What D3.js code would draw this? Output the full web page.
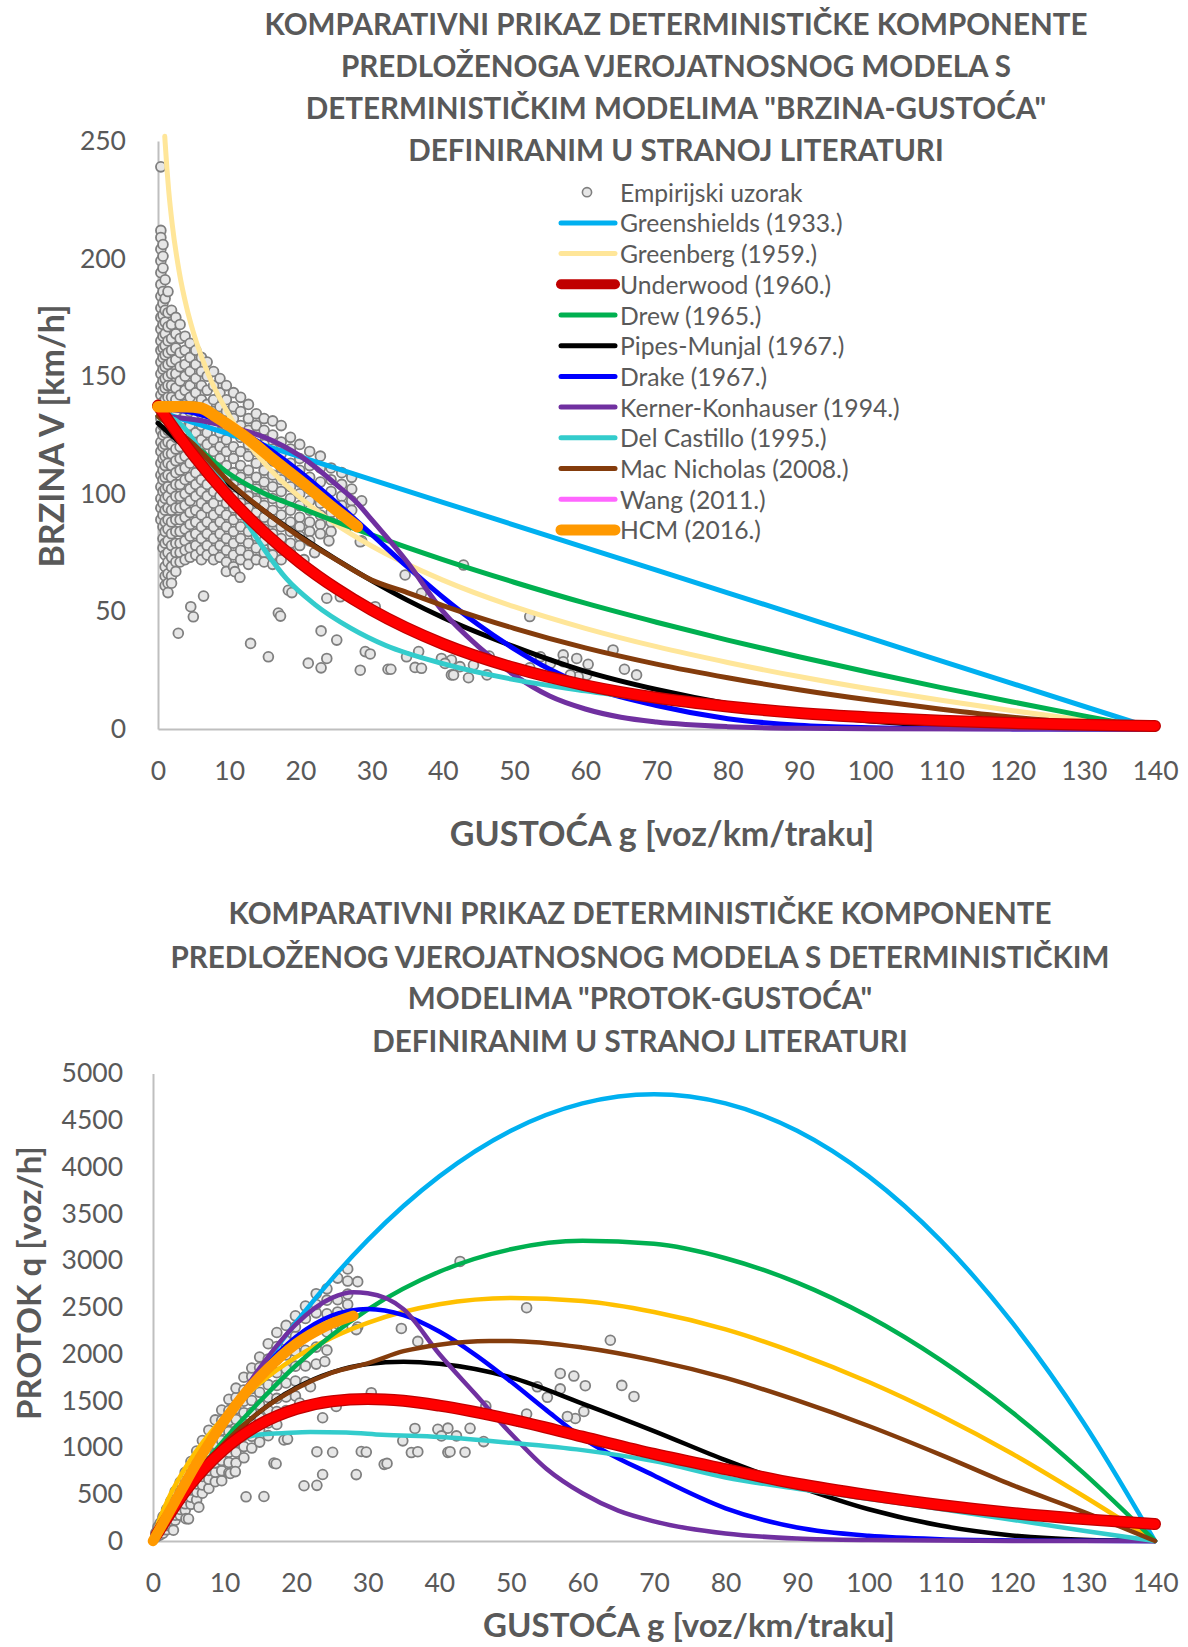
<!DOCTYPE html>
<html><head><meta charset="utf-8">
<script src="https://cdn.jsdelivr.net/npm/d3@7"></script>
<style>html,body{margin:0;padding:0;background:#fff}</style>
</head><body>
<script>
// ---------------- DATA ----------------
const densityTicks = [0,10,20,30,40,50,60,70,80,90,100,110,120,130,140];
const speedTicks = [0,50,100,150,200,250];
const flowTicks = [0,500,1000,1500,2000,2500,3000,3500,4000,4500,5000];

const titleTop = ["KOMPARATIVNI PRIKAZ DETERMINISTIČKE KOMPONENTE","PREDLOŽENOGA VJEROJATNOSNOG MODELA S","DETERMINISTIČKIM MODELIMA \"BRZINA-GUSTOĆA\"","DEFINIRANIM U STRANOJ LITERATURI"];
const titleBottom = ["KOMPARATIVNI PRIKAZ DETERMINISTIČKE KOMPONENTE","PREDLOŽENOG VJEROJATNOSNOG MODELA S DETERMINISTIČKIM","MODELIMA \"PROTOK-GUSTOĆA\"","DEFINIRANIM U STRANOJ LITERATURI"];
const xTitle = "GUSTOĆA g [voz/km/traku]";
const yTitleTop = "BRZINA V [km/h]";
const yTitleBottom = "PROTOK q [voz/h]";

const legendNames = ["Empirijski uzorak","Greenshields (1933.)","Greenberg (1959.)","Underwood (1960.)","Drew (1965.)","Pipes-Munjal (1967.)","Drake (1967.)","Kerner-Konhauser (1994.)","Del Castillo (1995.)","Mac Nicholas (2008.)","Wang (2011.)","HCM (2016.)"];

// empirical sample, speed-density: columns [g, [v...]]
const speedSampleCols = [
[0.4,[239,212,209,204,199,194,189,184,179,175,170,165,161,156,151,146,142,137,132,127,122,118,113,108,103,98,94,89]],
[0.7,[206,201,196,186,181,176,172,167,162,158,153,148,144,139,134,129,125,120,115,110,106,101,96,91,86,81,77]],
[1.0,[191,183,178,173,168,163,159,154,149,145,140,135,131,126,121,116,112,107,102,98,93,88,84,79,74,69,65,61]],
[1.4,[186,177,171,165,160,155,150,146,141,136,132,127,122,117,113,108,103,99,94,89,85,80,75,71,66,62,58]],
[1.9,[178,172,166,161,156,151,146,141,136,131,126,121,117,112,107,102,97,93,88,83,78,73,69,65,62]],
[2.5,[175,168,162,157,151,145,140,135,129,124,119,114,109,104,99,94,89,84,79,75,71,67]],
[3.1,[172,166,160,154,148,142,137,131,126,120,115,110,104,99,94,89,84,79,75,71]],
[3.8,[167,161,155,150,144,138,133,127,122,116,111,106,100,95,90,85,80,76,72]],
[4.5,[164,158,152,146,141,135,129,124,118,113,107,102,97,92,87,82,77,73]],
[5.3,[161,155,149,143,137,132,126,120,115,109,104,99,93,88,83,78,74]],
[6.1,[158,152,146,140,134,129,123,117,112,106,101,96,91,86,81,76,72]],
[6.9,[156,150,144,138,132,126,121,115,110,104,99,94,88,83,78,74]],
[7.8,[152,146,140,135,129,123,118,112,107,101,96,91,86,81,76,72]],
[8.7,[149,143,137,132,126,120,115,109,104,99,93,88,83,78,73]],
[9.6,[146,140,135,129,123,118,112,107,101,96,91,86,81,76,71,67]],
[10.6,[143,137,132,126,120,115,109,104,99,94,89,84,79,74,69]],
[11.6,[141,135,129,124,118,112,107,102,96,91,86,81,76,72]],
[12.7,[138,132,127,121,116,110,105,99,94,89,84,79,74,70]],
[13.8,[134,129,124,118,113,107,102,97,92,87,82,77,72]],
[14.9,[132,127,121,116,110,105,100,95,90,85,80,75,71]],
[16.1,[131,125,119,114,108,103,98,93,88,83,78,74,70]],
[17.3,[129,122,117,111,106,101,96,91,86,81,77,72]],
[18.6,[124,119,113,108,103,98,93,88,84,79,75]],
[19.9,[121,115,110,105,100,95,90,86,82,78]],
[21.3,[118,112,107,102,97,93,88,84,80]],
[22.8,[116,111,105,100,96,91,87,83]],
[24.3,[111,106,101,96,92,88,84]],
[25.8,[109,104,99,95,90]],
[27.2,[107,102,97,93]],
[28.6,[97,80]]
];
const speedOutliers = [[2.85,40.7],[4.6,52],[4.96,47.7],[6.4,56.5],[13,36.4],[15.5,30.7],[16.9,49.3],[17.2,48],[18.3,59],[18.8,58],[21.1,28],[22.9,26],[22.9,41.7],[23.7,30],[25.1,37.8],[23.7,55.6],[25.6,56.2],[28.4,25],[29.1,32.9],[29.8,31.9],[30.5,52],[32.3,25.4],[32.7,25.4],[34.7,65.5],[34.9,30.7],[36.6,32.9],[36.1,26.2],[37,25.8],[37,57.7],[39.8,30],[41.2,29.3],[40.3,27.9],[41.2,23],[42.9,69.7],[52.2,47.8],[46.5,31],[41.5,23],[43.6,21.8],[42.4,26.5],[44.3,27.2],[46.2,23],[51.1,25],[52.2,26],[53.7,30.7],[55.1,27.9],[56.9,31.5],[56.9,28.6],[58.8,30],[60.4,27.5],[60.2,23],[59,22.2],[57.9,23],[63.9,33.6],[65.5,25.4],[67.2,23],[20.5,72],[22,75],[24,80],[26.5,86],[28.4,79.6],[10.8,66.9],[11.5,64.5]];

// empirical sample, flow-density: columns [g, [q...]]
const flowSampleCols = [
[0.4,[42,63,88]],
[0.7,[58,92,124,150]],
[1.0,[66,98,132,166,191]],
[1.4,[84,122,160,198,240,262]],
[1.9,[120,165,212,258,300,338]],
[2.5,[170,220,272,322,375,428]],
[3.1,[222,276,330,385,440,498,530]],
[3.8,[275,338,400,462,525,590,630]],
[4.5,[330,398,466,535,605,675,735]],
[5.3,[392,468,545,622,700,778,850]],
[6.1,[440,525,610,695,780,865,962]],
[6.9,[512,600,690,780,870,960,1075]],
[7.8,[562,660,755,850,948,1045,1185]],
[8.7,[635,735,836,937,1038,1140,1295]],
[9.6,[645,752,860,968,1075,1185,1290,1400]],
[10.6,[730,840,950,1062,1172,1285,1395,1515]],
[11.6,[835,950,1065,1180,1300,1415,1535,1635]],
[12.7,[890,1010,1130,1250,1372,1495,1615,1752]],
[13.8,[994,1120,1248,1375,1502,1630,1760,1850]],
[14.9,[1058,1190,1322,1455,1590,1722,1855,1967]],
[16.1,[1127,1262,1398,1535,1672,1808,1945,2110]],
[17.3,[1246,1385,1525,1664,1800,1942,2080,2230]],
[18.6,[1395,1540,1690,1840,1990,2140,2306]],
[19.9,[1552,1710,1870,2028,2190,2290,2408]],
[21.3,[1704,1872,2040,2210,2380,2513]],
[22.8,[1892,2074,2258,2440,2530,2645]],
[24.3,[2041,2236,2430,2576,2697]],
[25.8,[2322,2450,2580,2812]],
[27.2,[2530,2640,2780,2910]],
[28.6,[2288,2774]]
];
const flowOutliers = [[2.85,116],[4.6,239],[4.96,237],[6.4,362],[13,473],[15.5,476],[16.9,833],[17.2,826],[18.3,1080],[18.8,1090],[21.1,591],[22.9,595],[22.9,955],[23.7,711],[25.1,949],[23.7,1318],[25.6,1439],[28.4,710],[29.1,957],[29.8,951],[30.5,1586],[32.3,820],[32.7,830],[34.7,2273],[34.9,1071],[36.6,1204],[36.1,946],[37,955],[37,2135],[39.8,1194],[41.2,1207],[40.3,1124],[41.2,948],[42.9,2990],[52.2,2495],[46.5,1442],[41.5,955],[43.6,950],[42.4,1124],[44.3,1205],[46.2,1063],[51.1,1278],[52.2,1357],[53.7,1649],[55.1,1537],[56.9,1792],[56.9,1627],[58.8,1764],[60.4,1661],[60.2,1385],[59,1310],[57.9,1332],[63.9,2147],[65.5,1664],[67.2,1546],[20.5,1476],[22,1650],[24,1920],[26.5,2279],[28.4,2261],[10.8,722],[11.5,742]];

// model curves: speed-density [g, v]
const greenshieldsSpeed = [[0,135],[20,115.7],[40,96.4],[60,77.1],[80,57.9],[100,38.6],[120,19.3],[140,0]];
const greenbergSpeed = [[0.95,252],[1,249.5],[1.25,238.3],[1.5,229],[2,214.5],[3,194],[4,179.5],[5,168.3],[7,151.3],[10,133.3],[15,112.8],[20,98.3],[25,87],[30,77.8],[40,63.3],[50,52],[60,42.8],[70,35],[80,28.3],[90,22.3],[100,17],[110,12.2],[120,7.8],[130,3.7],[140,0]];
const underwoodSpeed = [[0,137.5],[5,116.4],[10,98.5],[15,83.4],[20,70.6],[25,59.8],[30,50.6],[40,36.2],[50,26],[60,18.6],[70,13.3],[80,9.6],[90,6.8],[100,4.9],[110,3.5],[120,2.5],[130,1.8],[140,1.3]];
const proposedSpeed = [[0,137.5],[5,116.4],[10,98.5],[15,83.4],[20,70.6],[25,59.8],[30,50.6],[40,36.2],[50,26],[60,18.6],[70,13.3],[80,9.6],[90,6.8],[100,4.9],[110,3.5],[120,2.5],[130,1.8],[140,1.3]];
const drewSpeed = [[0,133],[5,121],[10,108.5],[15,100],[20,94],[30,82.5],[40,72],[50,62.4],[60,53.5],[70,45.4],[80,37.8],[90,30.7],[100,24],[110,17.6],[120,11.5],[130,5.6],[140,0]];
const pipesSpeed = [[0,130],[5,116.6],[10,104.1],[15,92.5],[20,81.9],[25,72.1],[30,63.1],[35,54.8],[40,47.4],[50,35],[60,24.5],[70,16.8],[80,10.8],[90,6.5],[100,3.4],[110,1.5],[120,0.5],[130,0.1],[140,0]];
const drakeSpeed = [[0,136.3],[5,134.4],[10,129],[15,120.3],[20,109.2],[25,96.4],[30,82.7],[35,69],[40,56],[45,44.3],[50,34.1],[55,25.4],[60,18.4],[70,10],[80,4.4],[90,1.6],[100,0.55],[110,0.17],[120,0.05],[130,0.01],[140,0]];
const kernerSpeed = [[0,133],[5,131.6],[10,128.5],[15,124],[20,116],[25,104],[28,96],[30,89],[35,71],[40,50],[45,35],[50,23],[55,14],[60,8.5],[65,5],[70,3],[80,1],[90,0.3],[100,0.1],[120,0],[140,0]];
const castilloSpeed = [[0,133],[2,132],[4,127],[6,118],[9,105],[12,90],[15,76],[18,64],[22,53],[27,43],[32,35.5],[40,27.8],[50,21],[60,16.2],[70,12.2],[80,8.5],[90,6.2],[100,4.5],[110,3.1],[120,1.9],[130,0.85],[140,0]];
const macNicholasSpeed = [[0,133],[5,121],[10,105],[15,92.5],[20,81.5],[25,72],[30,63.3],[35,58],[40,52.5],[45,47.5],[50,42.8],[60,34.5],[70,27.6],[80,21.8],[90,16.7],[100,12.3],[110,8.4],[120,5],[130,2.4],[140,0]];
const hcmSpeed = [[0,137],[2,137],[4,137],[6,136.5],[8,133],[10,129],[13,122.5],[16,115],[20,105.5],[24,95.5],[28,86]];

// model curves: flow-density [g, q]
const greenshieldsFlow = [[1,135],[10,1268],[20,2340],[30,3218],[40,3900],[50,4388],[60,4680],[70,4778],[80,4680],[90,4388],[100,3900],[110,3218],[120,2340],[130,1268],[140,0]];
const greenbergFlow = [[0.5,142],[1,250],[2,429],[5,841],[10,1333],[15,1692],[20,1966],[25,2175],[30,2334],[40,2532],[50,2600],[60,2568],[70,2450],[80,2264],[90,2007],[100,1700],[110,1342],[120,936],[130,481],[140,0]];
const underwoodFlow = [[0.5,68],[5,582],[10,985],[15,1251],[20,1412],[25,1495],[30,1518],[35,1499],[40,1448],[50,1300],[60,1116],[70,931],[80,768],[90,612],[100,490],[110,385],[120,300],[130,234],[140,182]];
const proposedFlow = [[0.5,68],[5,582],[10,985],[15,1251],[20,1412],[25,1495],[30,1518],[35,1499],[40,1448],[50,1300],[60,1116],[70,931],[80,768],[90,612],[100,490],[110,385],[120,300],[130,234],[140,182]];
const drewFlow = [[1,133],[5,605],[10,1085],[15,1500],[20,1880],[30,2475],[40,2880],[50,3120],[60,3210],[70,3178],[80,3024],[90,2763],[100,2400],[110,1936],[120,1380],[130,728],[140,0]];
const pipesFlow = [[1,127],[5,583],[10,1041],[15,1388],[20,1638],[25,1803],[30,1893],[35,1918],[40,1896],[50,1750],[60,1470],[70,1176],[80,864],[90,585],[100,340],[110,165],[120,60],[130,13],[140,0]];
const drakeFlow = [[1,136],[5,672],[10,1290],[15,1805],[20,2184],[25,2410],[30,2481],[35,2415],[40,2240],[45,1994],[50,1705],[55,1397],[60,1104],[70,700],[80,350],[90,144],[100,55],[110,19],[120,6],[130,1.4],[140,0]];
const kernerFlow = [[1,133],[5,658],[10,1285],[15,1860],[20,2320],[25,2600],[28,2660],[30,2650],[35,2480],[40,2000],[45,1575],[50,1150],[55,770],[60,510],[65,325],[70,210],[80,80],[90,27],[100,10],[120,0],[140,0]];
const castilloFlow = [[1,133],[2,264],[4,508],[6,708],[9,945],[12,1080],[15,1140],[18,1152],[22,1166],[27,1161],[32,1136],[40,1112],[50,1050],[60,972],[70,854],[80,680],[90,558],[100,450],[110,341],[120,228],[130,110],[140,0]];
const macNicholasFlow = [[1,131],[5,605],[10,1050],[15,1388],[20,1630],[25,1800],[30,1900],[35,2030],[40,2100],[47,2140],[50,2140],[60,2070],[70,1932],[80,1744],[90,1503],[100,1230],[110,924],[120,600],[130,312],[140,0]];
const hcmFlow = [[0,0],[2,274],[4,548],[6,819],[8,1064],[10,1290],[13,1593],[16,1840],[20,2110],[24,2292],[28,2408]];

// ---------------- STYLE ----------------
const FONT = "Lato, 'Open Sans', 'DejaVu Sans', sans-serif";
const TXT = "#595959";
const AXIS = "#BFBFBF";

const svg = d3.select("body").append("svg").attr("width",1188).attr("height",1647)
  .style("font-family",FONT);

function drawChart(o){
  const x = d3.scaleLinear().domain([0,140]).range(o.xr);
  const y = d3.scaleLinear().domain(o.yd).range(o.yr);
  const g = svg.append("g");
  // titles
  g.selectAll("text.title").data(o.title).join("text")
    .attr("x",o.titleX).attr("y",(d,i)=>o.titleY[i])
    .attr("text-anchor","middle").attr("dominant-baseline","central")
    .attr("font-weight","bold").attr("font-size",o.titleSize).attr("fill",TXT).text(d=>d);
  // axes
  const ax = g.append("g").attr("transform",`translate(0,${o.yr[0]})`)
    .call(d3.axisBottom(x).tickValues(densityTicks).tickSize(0).tickSizeOuter(0).tickFormat(d3.format("d")));
  ax.select(".domain").attr("stroke",AXIS).attr("stroke-width",2);
  ax.selectAll("text").attr("y",o.xLabOff).attr("dy","0.35em").attr("font-size",o.tickSize)
    .attr("fill",TXT).style("font-family",FONT);
  const ay = g.append("g").attr("transform",`translate(${o.xr[0]},0)`)
    .call(d3.axisLeft(y).tickValues(o.yTicks).tickSize(0).tickSizeOuter(0).tickPadding(o.yPad).tickFormat(d3.format("d")));
  ay.select(".domain").attr("stroke",AXIS).attr("stroke-width",2);
  ay.selectAll("text").attr("font-size",o.tickSize).attr("fill",TXT).style("font-family",FONT);
  // axis titles
  g.append("text").attr("x",o.xTitlePos[0]).attr("y",o.xTitlePos[1]).attr("text-anchor","middle")
    .attr("dominant-baseline","central").attr("font-weight","bold").attr("font-size",o.axisTitleSize)
    .attr("fill",TXT).text(xTitle);
  g.append("text").attr("transform",`translate(${o.yTitlePos[0]},${o.yTitlePos[1]}) rotate(-90)`)
    .attr("text-anchor","middle").attr("dominant-baseline","central").attr("font-weight","bold")
    .attr("font-size",o.axisTitleSize).attr("fill",TXT).text(o.yTitle);
  // scatter
  const pts = [];
  o.cols.forEach(([gg,vals])=>vals.forEach(v=>pts.push([gg,v])));
  o.outliers.forEach(p=>pts.push(p));
  g.append("g").selectAll("circle").data(pts).join("circle")
    .attr("cx",d=>x(d[0])).attr("cy",d=>y(d[1])).attr("r",4.9)
    .attr("fill","#E6E6E6").attr("stroke","#7F7F7F").attr("stroke-width",1.8);
  // lines
  const line = d3.line().x(d=>x(d[0])).y(d=>y(d[1])).curve(d3.curveMonotoneX);
  o.series.forEach(s=>{
    g.append("path").datum(s.data).attr("d",line).attr("fill","none")
      .attr("stroke",s.color).attr("stroke-width",s.w)
      .attr("stroke-linecap","round").attr("stroke-linejoin","round");
  });
}

const thinT = 5, thinB = 4.5;
drawChart({
  xr:[158,1155], yd:[0,250], yr:[729,141], yTicks:speedTicks, yPad:32,
  title:titleTop, titleX:676, titleY:[23,65,107,149], titleSize:29.6,
  tickSize:26.5, xLabOff:42, axisTitleSize:34,
  xTitlePos:[662,832], yTitle:yTitleTop, yTitlePos:[50,436],
  cols:speedSampleCols, outliers:speedOutliers,
  series:[
    {data:greenshieldsSpeed,color:"#00B0F0",w:thinT},
    {data:greenbergSpeed,color:"#FFE699",w:thinT},
    {data:drewSpeed,color:"#00B050",w:thinT},
    {data:pipesSpeed,color:"#000000",w:thinT},
    {data:drakeSpeed,color:"#0000FF",w:thinT},
    {data:kernerSpeed,color:"#7030A0",w:thinT},
    {data:castilloSpeed,color:"#33CCCC",w:thinT},
    {data:macNicholasSpeed,color:"#843C0C",w:thinT},
    {data:underwoodSpeed,color:"#C00000",w:12},
    {data:proposedSpeed,color:"#FF0000",w:9.5},
    {data:hcmSpeed,color:"#FF9900",w:11.5}
  ]
});

drawChart({
  xr:[153,1155], yd:[0,5000], yr:[1541,1073.5], yTicks:flowTicks, yPad:30,
  title:titleBottom, titleX:640, titleY:[912,956,997,1040], titleSize:29.6,
  tickSize:26.5, xLabOff:42, axisTitleSize:33,
  xTitlePos:[689,1624], yTitle:yTitleBottom, yTitlePos:[28,1283],
  cols:flowSampleCols, outliers:flowOutliers,
  series:[
    {data:greenshieldsFlow,color:"#00B0F0",w:thinB},
    {data:greenbergFlow,color:"#FFC000",w:thinB},
    {data:drewFlow,color:"#00B050",w:thinB},
    {data:pipesFlow,color:"#000000",w:thinB},
    {data:drakeFlow,color:"#0000FF",w:thinB},
    {data:kernerFlow,color:"#7030A0",w:thinB},
    {data:castilloFlow,color:"#33CCCC",w:thinB},
    {data:macNicholasFlow,color:"#843C0C",w:thinB},
    {data:underwoodFlow,color:"#C00000",w:12},
    {data:proposedFlow,color:"#FF0000",w:9.5},
    {data:hcmFlow,color:"#FF9900",w:10.5}
  ]
});

// legend (top chart)
const legendColors = [null,"#00B0F0","#FFE699","#C00000","#00B050","#000000","#0000FF","#7030A0","#33CCCC","#843C0C","#FF66FF","#FF9900"];
const legendWidths = [0,5,5,10,5,5,5,5,5,5,5,11];
const lg = svg.append("g");
legendNames.forEach((name,i)=>{
  const yy = 192.2 + i*30.7;
  if(i===0){
    lg.append("circle").attr("cx",587).attr("cy",yy).attr("r",4.6)
      .attr("fill","#E6E6E6").attr("stroke","#7F7F7F").attr("stroke-width",1.6);
  } else {
    lg.append("line").attr("x1",561).attr("x2",615).attr("y1",yy).attr("y2",yy)
      .attr("stroke",legendColors[i]).attr("stroke-width",legendWidths[i]).attr("stroke-linecap","round");
  }
  lg.append("text").attr("x",620).attr("y",yy).attr("dominant-baseline","central")
    .attr("font-size",24.7).attr("fill",TXT).text(name);
});
</script>
</body></html>
